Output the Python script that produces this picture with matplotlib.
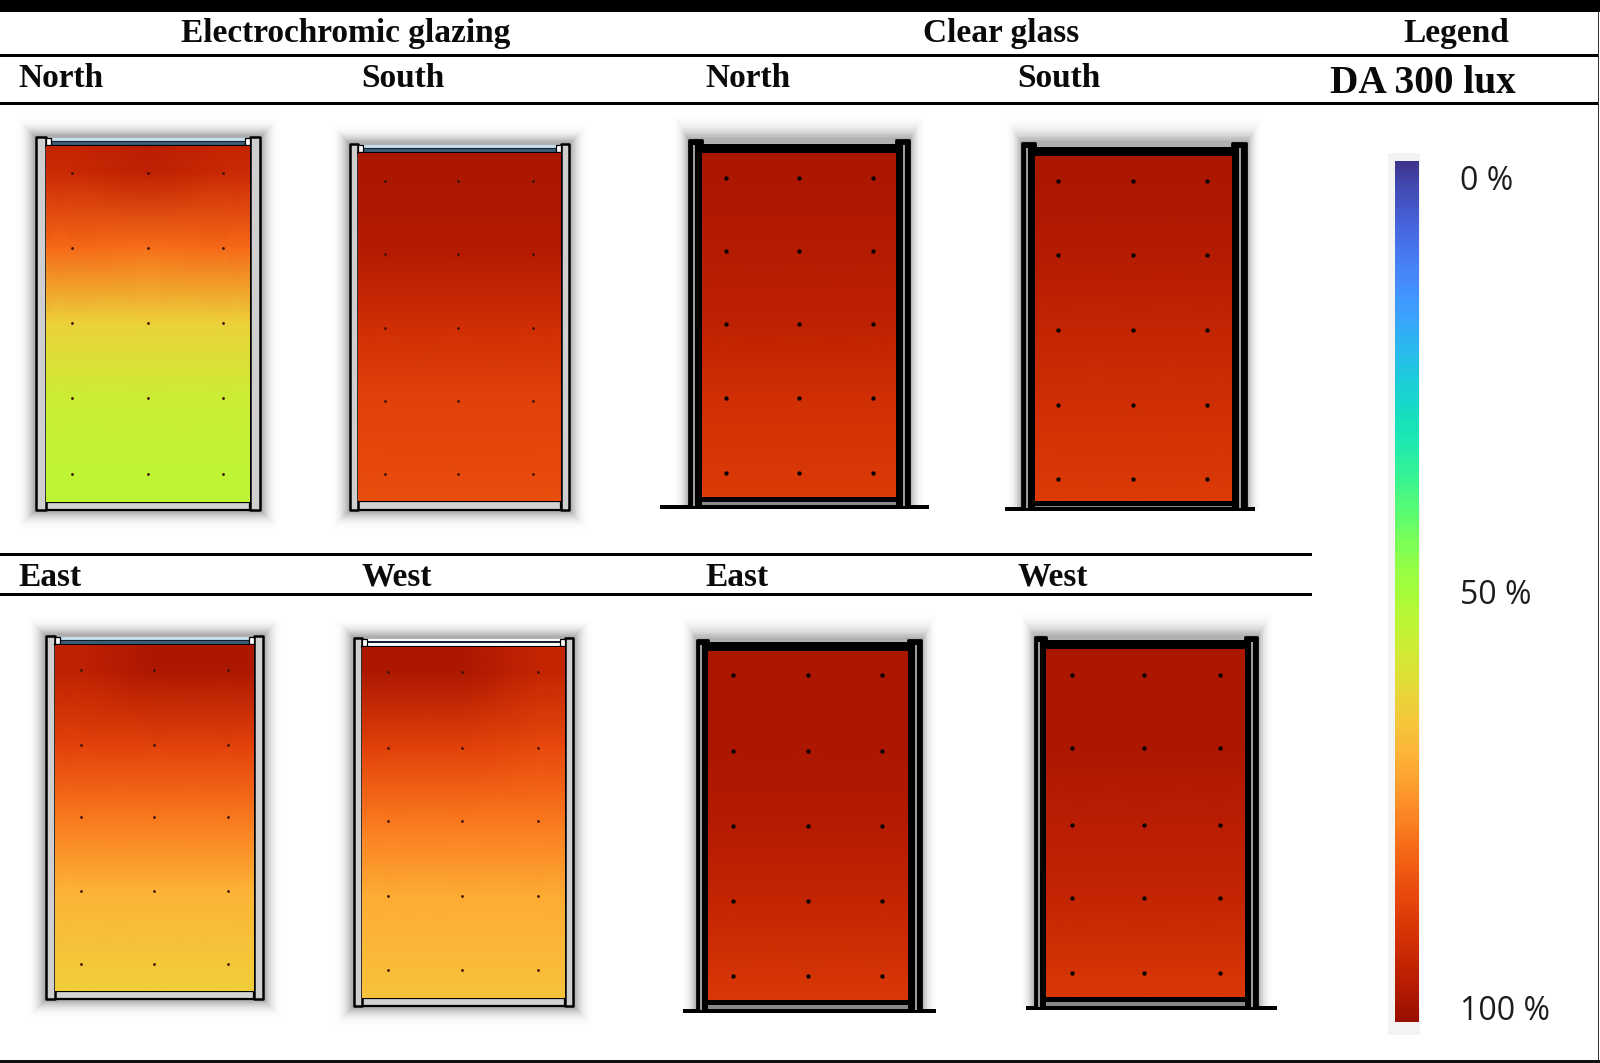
import numpy as np
import matplotlib
matplotlib.use("Agg")
import matplotlib.pyplot as plt
from matplotlib.colors import LinearSegmentedColormap, Normalize
from matplotlib.patches import Rectangle

W, H = 1600, 1063

# --- data: daylight autonomy (%) at top edge, five sensor rows, bottom edge; three columns
ec_north = [[93, 95, 93], [92, 94, 92], [80, 79, 80], [63, 63, 63], [56, 56, 56], [54, 54, 54], [54, 54, 54]]
ec_south = [[97, 97, 97], [97, 97, 97], [96, 96, 96], [91, 91, 91], [87, 87, 87], [85, 85, 85], [84, 84, 84]]
cg_north = [[97, 97, 97], [97, 97, 97], [96, 96, 96], [94, 94, 94], [91, 91, 91], [89, 89, 89], [88, 88, 88]]
cg_south = [[97, 97, 97], [97, 97, 97], [96, 96, 96], [93, 93, 93], [91, 91, 91], [89, 89, 89], [88, 88, 88]]
ec_east = [[94, 97, 97], [94, 97, 97], [87, 87, 87], [78, 78, 78], [69, 69, 69], [65, 65, 65], [64, 64, 64]]
ec_west = [[97, 97, 93], [97, 97, 93], [87, 87, 85], [78, 78, 78], [70, 70, 70], [67, 67, 67], [66, 66, 66]]
cg_east = [[97, 97, 97], [97, 97, 97], [97, 97, 97], [96, 96, 96], [93, 93, 93], [90, 90, 90], [89, 89, 89]]
cg_west = [[97, 97, 97], [97, 97, 97], [97, 97, 97], [95, 95, 95], [93, 93, 93], [90, 90, 90], [89, 89, 89]]

group_titles = ["Electrochromic glazing", "Clear glass", "Legend"]
orientation_top = ["North", "South", "North", "South"]
orientation_bottom = ["East", "West", "East", "West"]
legend_title = "DA 300 lux"
legend_labels = ["0 %", "50 %", "100 %"]

# --- layout (pixels)
panels = [
    dict(v=ec_north, kind="ec", glass="#c5dfec", outer=(35, 261, 136, 511), heat=(46, 250, 146, 502),
         dx=(72, 148, 223), dy=(173, 248, 323, 398, 474)),
    dict(v=ec_south, kind="ec", glass="#c5dfec", outer=(349, 570, 143, 511), heat=(358, 561, 153, 501),
         dx=(385, 458, 533), dy=(181, 254, 328, 401, 474)),
    dict(v=cg_north, kind="cg", outer=(688, 910, 139, 507), heat=(702, 896, 153, 497),
         dx=(726, 799, 873), dy=(178, 251, 324, 398, 473), ground=(660, 929)),
    dict(v=cg_south, kind="cg", outer=(1021, 1247, 142, 509), heat=(1035, 1232, 156, 501),
         dx=(1058, 1133, 1207), dy=(181, 255, 330, 405, 479), ground=(1005, 1255)),
    dict(v=ec_east, kind="ec", glass="#c5dfec", outer=(45, 264, 635, 1000), heat=(55, 254, 645, 991),
         dx=(81, 154, 228), dy=(670, 745, 817, 891, 964)),
    dict(v=ec_west, kind="ec", glass="#ffffff", outer=(353, 574, 637, 1007), heat=(362, 565, 647, 998),
         dx=(388, 462, 538), dy=(672, 748, 821, 896, 970)),
    dict(v=cg_east, kind="cg", outer=(696, 922, 639, 1011), heat=(708, 908, 651, 1000),
         dx=(733, 808, 882), dy=(675, 751, 826, 901, 976), ground=(683, 936)),
    dict(v=cg_west, kind="cg", outer=(1034, 1258, 636, 1008), heat=(1046, 1245, 649, 997),
         dx=(1072, 1144, 1220), dy=(675, 748, 825, 898, 973), ground=(1026, 1277)),
]

turbo = matplotlib.colormaps["turbo"]
cmap = LinearSegmentedColormap.from_list("da", turbo(np.linspace(0.05, 0.96, 256)))
norm = Normalize(0, 100)

plt.rcParams["font.family"] = ["Liberation Serif", "DejaVu Serif"]
fig = plt.figure(figsize=(W / 100, H / 100), dpi=100, facecolor="white")
base = fig.add_axes([0, 0, 1, 1], zorder=0)
base.set_xlim(0, W)
base.set_ylim(H, 0)
base.axis("off")


def rect(l, t, r, b, fc, ec="none", lw=0, z=3, alpha=None, join="miter"):
    base.add_patch(Rectangle((l, t), r - l, b - t, facecolor=fc, edgecolor=ec, linewidth=lw,
                             zorder=z, alpha=alpha, joinstyle=join))


def shadow(L, R, T, B, reach, step_alpha, side=1.0, top=1.0, ground=None):
    for d in range(1, reach + 1):
        bot = B + d * side if ground is None else ground
        a = step_alpha * (1 - d / (reach + 1)) ** 2 * 2
        rect(L - d * side, T - d * top, R + d * side, bot, "black", z=1, alpha=a)


def draw_ec(p):
    L, R, T, B = p["outer"]
    l, r, t, b = p["heat"]
    shadow(L, R, T, B, 22, 0.024)
    rect(l, b, r, B - 1, "#d2d2d2", "black", 1.6, join="round")
    rect(L + 1, T + 1, l, B - 1, "#cfcfcf", "black", 1.8, join="round")
    rect(r, T + 1, R - 1, B - 1, "#cfcfcf", "black", 1.8, join="round")
    rect(l, T + 2, r, t - 1, p["glass"], z=2.5)
    if p["glass"] == "#ffffff":
        rect(l + 4, t - 6.5, r - 4, t - 4.5, "#16222e", z=2.6)
    else:
        rect(l + 4, t - 5, r - 4, t - 1, "#3d5f78", "#16222e", 0.8, z=2.6)
    rect(l, T + 2, l + 5, t - 1, "white", "black", 0.9, z=3.2)
    rect(r - 5, T + 2, r, t - 1, "white", "black", 0.9, z=3.2)
    base.plot([l, r], [t - 0.5, t - 0.5], color="black", lw=1.5, zorder=3.3)


def draw_cg(p):
    L, R, T, B = p["outer"]
    l, r, t, b = p["heat"]
    g0, g1 = p["ground"]
    shadow(L, R, T, B, 24, 0.02, side=0.75, top=1.25, ground=B)
    rect(L + 1, T + 1, l, B, "black", "black", 2, join="round")
    rect(r, T + 1, R - 1, B, "black", "black", 2, join="round")
    rect(l, t - 9.5, r, t, "black")
    rect(l, b, r, b + 5, "black")
    rect(l, b + 5, r, B - 2, "#8a8a8a")
    rect((L + l) / 2 - 2, T + 6, (L + l) / 2 - 0.2, B - 1, "#9c9c9c", z=3.2)
    rect((R + r) / 2 - 0.2, T + 6, (R + r) / 2 + 1.6, B - 1, "#9c9c9c", z=3.2)
    rect(g0, B - 2, g1, B + 1.5, "black", z=3.1)


for p in panels:
    (draw_ec if p["kind"] == "ec" else draw_cg)(p)
    l, r, t, b = p["heat"]
    ax = fig.add_axes([l / W, 1 - b / H, (r - l) / W, (b - t) / H], zorder=2)
    values = np.pad(np.array(p["v"], dtype=float), ((0, 0), (1, 1)), mode="edge")
    xs = [l, *p["dx"], r]
    ys = [t, *p["dy"], b]
    ax.pcolormesh(xs, ys, values, shading="gouraud", cmap=cmap, norm=norm, rasterized=True)
    sx, sy = np.meshgrid(p["dx"], p["dy"])
    if p["kind"] == "ec":
        ax.scatter(sx.ravel(), sy.ravel(), s=4, color="#401008", linewidths=0)
    else:
        ax.scatter(sx.ravel(), sy.ravel(), s=10, color="#0c0404", linewidths=0)
    ax.set_xlim(l, r)
    ax.set_ylim(b, t)
    ax.axis("off")

# rules
rect(0, 0, W, 11.5, "black", z=5)
rect(0, 1059.5, W, H, "#111111", z=5)
rect(1597.5, 11, 1599, 1060, "#333333", z=5)
rect(0, 53.5, 1598, 57, "black", z=5)
rect(0, 101.5, 1598, 104.5, "black", z=5)
rect(0, 553, 1312, 555.5, "black", z=5)
rect(0, 592.5, 1312, 595.5, "black", z=5)

# titles
bold = dict(fontweight="bold", color="#0a0a0a", va="baseline", ha="left", zorder=6)
for s, x in zip(group_titles, (181, 923, 1403)):
    base.text(x, 42, s, fontsize=24, **bold)
for s, x in zip(orientation_top, (18, 361, 705, 1017)):
    base.text(x, 87, s, fontsize=24, **bold)
for s, x in zip(orientation_bottom, (18, 361, 705, 1017)):
    base.text(x, 586, s, fontsize=24, **bold)
base.text(1330, 93, legend_title, fontsize=28.4, **bold)

# colour legend
rect(1388, 153, 1420, 1035, "#f3f3f3", z=1)
cax = fig.add_axes([1395 / W, 1 - 1022 / H, 24 / W, 861 / H], zorder=2)
sm = plt.cm.ScalarMappable(norm=norm, cmap=cmap)
cb = fig.colorbar(sm, cax=cax)
cb.outline.set_visible(False)
cb.set_ticks([])
cax.invert_yaxis()
for s, y in zip(legend_labels, (190, 604, 1020)):
    base.text(1460, y, s, fontsize=23, family="Open Sans", color="#1c1c1c", va="baseline", ha="left", zorder=6)

fig.savefig("out.png", dpi=100, facecolor="white")
